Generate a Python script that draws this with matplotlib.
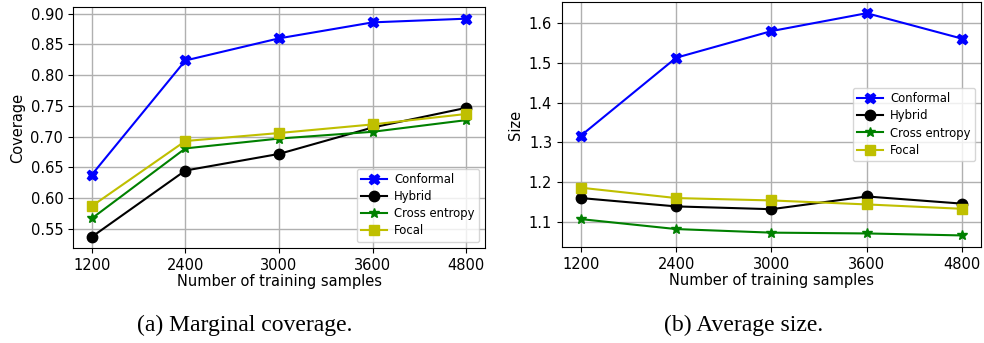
import numpy as np
import matplotlib
matplotlib.use('Agg')
import matplotlib.pyplot as plt

samples = ['1200', '2400', '3000', '3600', '4800']
methods = ['Conformal', 'Hybrid', 'Cross entropy', 'Focal']

coverage_conformal = [0.638, 0.824, 0.860, 0.886, 0.892]
coverage_hybrid = [0.537, 0.645, 0.672, 0.715, 0.747]
coverage_ce = [0.567, 0.681, 0.697, 0.708, 0.727]
coverage_focal = [0.587, 0.693, 0.706, 0.720, 0.737]

size_conformal = [1.317, 1.513, 1.580, 1.625, 1.561]
size_hybrid = [1.160, 1.139, 1.132, 1.164, 1.146]
size_ce = [1.107, 1.082, 1.073, 1.071, 1.066]
size_focal = [1.186, 1.160, 1.154, 1.144, 1.133]

styles = [('b', 'X'), ('k', 'o'), ('g', '*'), ('y', 's')]

fig = plt.figure(figsize=(9.84, 3.43), dpi=100)
ax1 = fig.add_axes([0.0742, 0.277, 0.4187, 0.7026])
ax2 = fig.add_axes([0.571, 0.280, 0.426, 0.714])

x = np.arange(len(samples))


def draw(ax, series, ylabel, loc):
    for vals, name, (c, m) in zip(series, methods, styles):
        ax.plot(x, vals, color=c, marker=m, markersize=7.5, linewidth=1.5, label=name)
    ax.set_xticks(x)
    ax.set_xticklabels(samples)
    ax.grid(True, color='#b0b0b0', linewidth=1)
    ax.set_xlabel('Number of training samples', fontsize=10.5, labelpad=1)
    ax.set_ylabel(ylabel, fontsize=10.5)
    ax.tick_params(labelsize=10.5)
    ax.legend(loc=loc, fontsize=8.4, handlelength=2.2, handletextpad=0.6,
              labelspacing=0.35)


draw(ax1, [coverage_conformal, coverage_hybrid, coverage_ce, coverage_focal], 'Coverage', 'lower right')
ax1.set_ylim(0.519, 0.911)
ax1.set_yticks([0.55, 0.60, 0.65, 0.70, 0.75, 0.80, 0.85, 0.90])

draw(ax2, [size_conformal, size_hybrid, size_ce, size_focal], 'Size', 'center right')
ax2.set_ylim(1.037, 1.653)

fig.text(0.249, 0.05, '(a) Marginal coverage.', ha='center', va='center',
         family='Liberation Serif', fontsize=17)
fig.text(0.7556, 0.05, '(b) Average size.', ha='center', va='center',
         family='Liberation Serif', fontsize=17)

fig.savefig('out.png', dpi=100)
